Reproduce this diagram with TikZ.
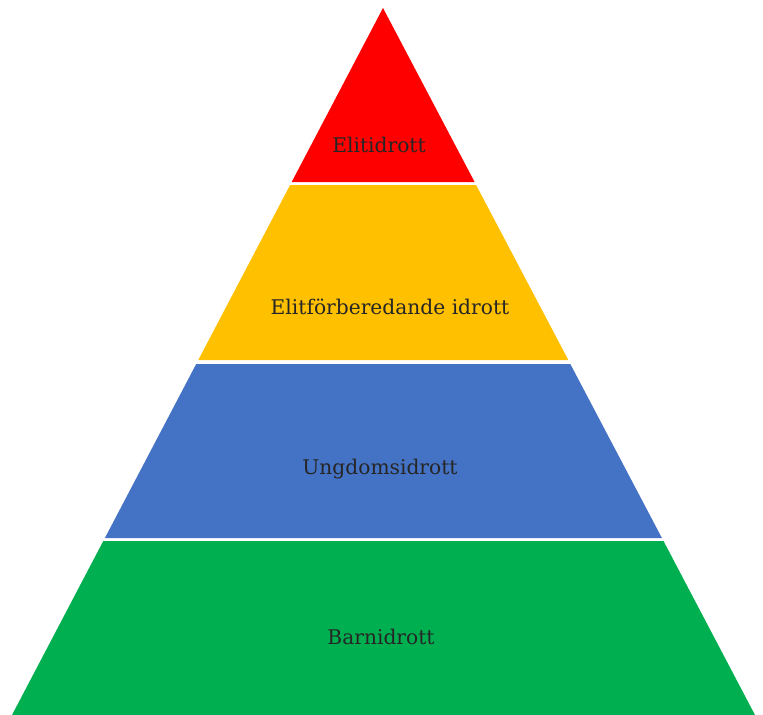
\documentclass[tikz,border=0pt]{standalone}
\usepackage{fontspec}
\setmainfont{DejaVu Serif}
\definecolor{cred}{RGB}{255,0,0}
\definecolor{cyellow}{RGB}{255,192,0}
\definecolor{cblue}{RGB}{68,114,196}
\definecolor{cgreen}{RGB}{0,176,80}
\definecolor{ctext}{RGB}{38,38,38}
\tikzset{lbl/.style={text=ctext, font=\fontsize{20.3}{24}\selectfont, inner sep=0pt}}
\begin{document}
\begin{tikzpicture}[x=1bp,y=-1bp]
\useasboundingbox (0,0) rectangle (763,715);
% edges: left x = 383 - 371*(y-8)/707, right x = 383 + 372*(y-8)/707
\fill[cred] (383,8) -- (291.7,182) -- (474.6,182) -- cycle;
\fill[cyellow] (290.1,185) -- (476.1,185) -- (568.3,360) -- (198.3,360) -- cycle;
\fill[cblue] (196.2,364) -- (570.3,364) -- (661.9,538) -- (104.9,538) -- cycle;
\fill[cgreen] (103.3,541) -- (663.5,541) -- (755,715) -- (12,715) -- cycle;
\node[lbl] (elit) at (379,145) {Elitidrott};
\node[lbl] (forb) at (390,307) {Elitförberedande idrott};
\node[lbl] (ungd) at (380,469) {Ungdomsidrott};
\node[lbl] (barn) at (381,637) {Barnidrott};
\end{tikzpicture}
\end{document}
